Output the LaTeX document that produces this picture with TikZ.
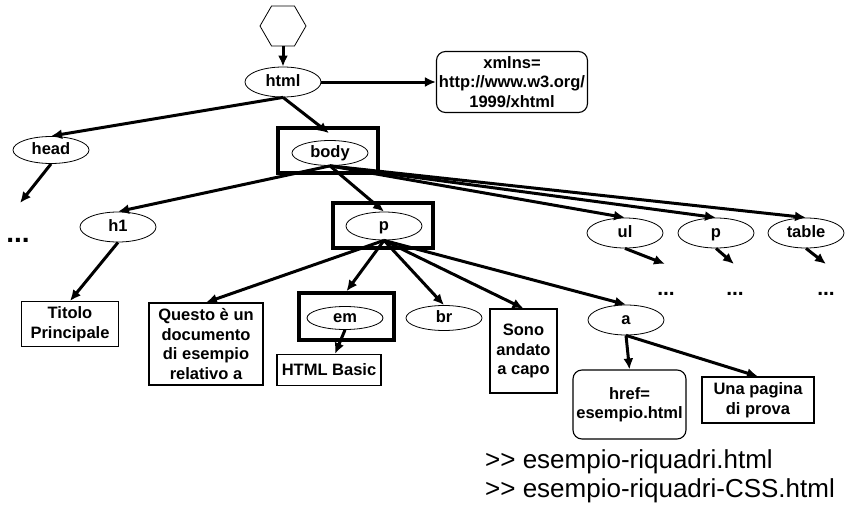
\documentclass[tikz,border=0pt]{standalone}
\usepackage{fontspec}
\setmainfont{Liberation Sans}
\newfontfamily\plainfont{Liberation Sans}
\usetikzlibrary{shapes.geometric,arrows.meta,calc}
\begin{document}
\begin{tikzpicture}[x=1pt,y=-1pt,
  lbl/.style={font=\bfseries\fontsize{16.5}{19.5}\selectfont},
  el/.style={lbl,ellipse,draw,line width=0.8pt,minimum width=76pt,minimum height=28pt,inner sep=0pt,text height=12pt,text depth=3.5pt},
  box/.style={lbl,rectangle,draw,line width=1.1pt,align=center,inner sep=0pt},
  rbox/.style={box,rounded corners=9pt},
  frame/.style={rectangle,draw,line width=3.5pt,inner sep=0pt},
  arr/.style={line width=3pt,-{Latex[length=11pt,width=10pt]}},
  dots/.style={font=\bfseries\fontsize{21}{21}\selectfont,inner sep=0pt,anchor=base},
  foot/.style={font=\plainfont\fontsize{26}{30}\selectfont,inner sep=0pt,anchor=base west}
]
\useasboundingbox (0,0) rectangle (847,506);

% nodes
\node[regular polygon,regular polygon sides=6,draw,line width=0.8pt,minimum size=46pt,inner sep=0pt] (hex) at (283,26) {};
\node[el,minimum height=30pt] (html) at (283,82) {html};
\node[rbox,minimum width=151pt,minimum height=61pt] (xmlns) at (512,82) {xmlns=\\http://www.w3.org/\\1999/xhtml};
\node[el,minimum height=27pt] (head) at (51,150) {head};
\node[frame,minimum width=100pt,minimum height=45pt] (bodyfr) at (328,150.5) {};
\node[el,minimum height=25pt] (body) at (330,153) {body};
\node[el,minimum height=30pt] (h1) at (118,227) {h1};
\node[frame,minimum width=100pt,minimum height=45pt] (pfr) at (383,225.5) {};
\node[el,minimum height=28pt] (p) at (384,226) {p};
\node[el,minimum height=30pt] (ul) at (625,233) {ul};
\node[el,minimum height=30pt] (p2) at (716,233) {p};
\node[el,minimum height=30pt] (table) at (806,233) {table};
\node[box,minimum width=97pt,minimum height=45pt] (titolo) at (70,324) {Titolo\\Principale};
\node[box,minimum width=114pt,minimum height=82pt] (questo) at (206,344) {Questo è un\\documento\\di esempio\\relativo a};
\node[frame,minimum width=95pt,minimum height=47pt] (emfr) at (346.5,316.5) {};
\node[el,minimum height=23pt] (em) at (345,318) {em};
\node[box,minimum width=104pt,minimum height=31pt] (hb) at (329,370) {HTML Basic};
\node[el,minimum height=25pt] (br) at (444,318) {br};
\node[box,minimum width=67pt,minimum height=84pt] (sono) at (523.5,351) {Sono\\andato\\a capo};
\node[el,minimum height=30pt] (a) at (626,320) {a};
\node[rbox,minimum width=113pt,minimum height=69pt] (href) at (629.5,404.5) {href=\\esempio.html};
\node[box,minimum width=112pt,minimum height=46pt] (una) at (758,400) {Una pagina\\di prova};

\node[dots,font=\bfseries\fontsize{28}{28}\selectfont] (d0) at (18,242) {...};
\node[dots] (d1) at (666,295) {...};
\node[dots] (d2) at (735,295) {...};
\node[dots] (d3) at (826,295) {...};

\coordinate (headend) at (20,203);
\coordinate (ulend) at (665,264);
\coordinate (p2end) at (734,264);
\coordinate (tableend) at (826,264);

% connectors
\draw[arr] (hex) -- (html);
\draw[arr] (html) -- (xmlns);
\draw[arr] (html.south) -- (head.north);
\draw[arr] (html.south) -- ($(bodyfr.north)!0.5!(body.north)$);
\draw[arr] (head.south) -- (headend);
\draw[arr] (body.south) -- (h1.north);
\draw[arr] (body.south) -- (p.north);
\draw[arr] (body.south) -- (ul.north);
\draw[arr] (body.south) -- (p2.north);
\draw[arr] (body.south) -- (table.north);
\draw[arr] (h1.south) -- (titolo.north);
\draw[arr] (p.south) -- (questo.north);
\draw[arr] (p.south) -- (emfr.north);
\draw[arr] (p.south) -- (br.north);
\draw[arr] (p.south) -- (sono.north);
\draw[arr] (p.south) -- (a.north);
\draw[arr] (em.south) -- ([xshift=6pt]hb.north);
\draw[arr] (a.south) -- (href.north);
\draw[arr] (a.south) -- (una.north);
\draw[arr] (ul.south) -- (ulend);
\draw[arr] (p2.south) -- (p2end);
\draw[arr] (table.south) -- (tableend);

\node[foot] (f1) at (485,468) {>> esempio-riquadri.html};
\node[foot] (f2) at (485,497) {>> esempio-riquadri-CSS.html};
\end{tikzpicture}
\end{document}
